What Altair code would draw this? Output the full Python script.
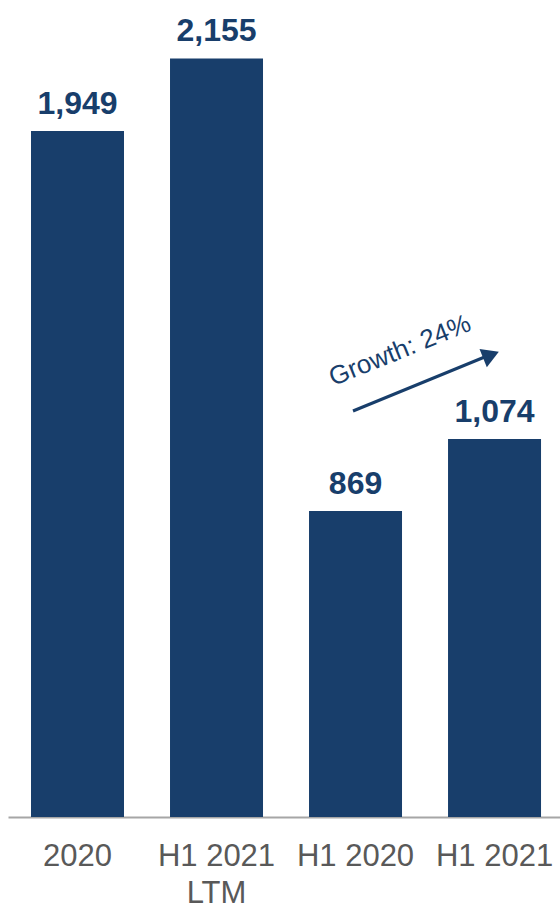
import altair as alt
import pandas as pd

categories = ["2020", "H1 2021\nLTM", "H1 2020", "H1 2021"]
values = [1949, 2155, 869, 1074]
value_labels = ["1,949", "2,155", "869", "1,074"]
annotation_text = ["Growth: 24%"]

NAVY = "#183E6B"
GRAY = "#595959"
FONT = "Liberation Sans"

df = pd.DataFrame({"cat": categories, "val": values, "lab": value_labels})

x = alt.X("cat:N", sort=categories, title=None,
          scale=alt.Scale(paddingInner=0.331, paddingOuter=0.151, align=0.548),
          axis=alt.Axis(labelAngle=0, ticks=False, labelPadding=24,
                        labelFontSize=31, labelColor=GRAY, labelFont=FONT,
                        labelLineHeight=37, labelExpr="split(datum.value, '\\n')",
                        domainColor="#A6A6A6", domainWidth=2, grid=False))
y = alt.Y("val:Q", title=None, scale=alt.Scale(domain=[0, 2321], nice=False),
          axis=None)

bars = alt.Chart(df).mark_bar(color=NAVY).encode(x=x, y=y)
labels = alt.Chart(df).mark_text(
    baseline="alphabetic", dy=-17, font=FONT, fontSize=32,
    fontWeight="bold", color=NAVY
).encode(x=x, y=y, text="lab:N")

ann = pd.DataFrame({"t": annotation_text})
arrow_line = alt.Chart(ann).mark_rule(color=NAVY, strokeWidth=3).encode(
    x=alt.value(345), x2=alt.value(484), y=alt.value(411), y2=alt.value(354))
arrow_head = alt.Chart(ann).mark_point(
    shape="triangle-right", filled=True, color=NAVY, size=380, angle=338, opacity=1
).encode(x=alt.value(483), y=alt.value(355))
ann_text = alt.Chart(ann).mark_text(
    angle=338, align="center", baseline="alphabetic", font=FONT,
    fontSize=26, color=NAVY
).encode(x=alt.value(395), y=alt.value(358), text="t:N")

chart = alt.layer(bars, labels, arrow_line, arrow_head, ann_text).properties(
    width=552, height=817,
    padding={"left": 8, "top": 0, "right": 0, "bottom": 92},
    autosize=alt.AutoSizeParams(type="none"),
).configure_view(stroke=None)

chart.save("out.html", embed_options={"renderer": "svg", "actions": False})
